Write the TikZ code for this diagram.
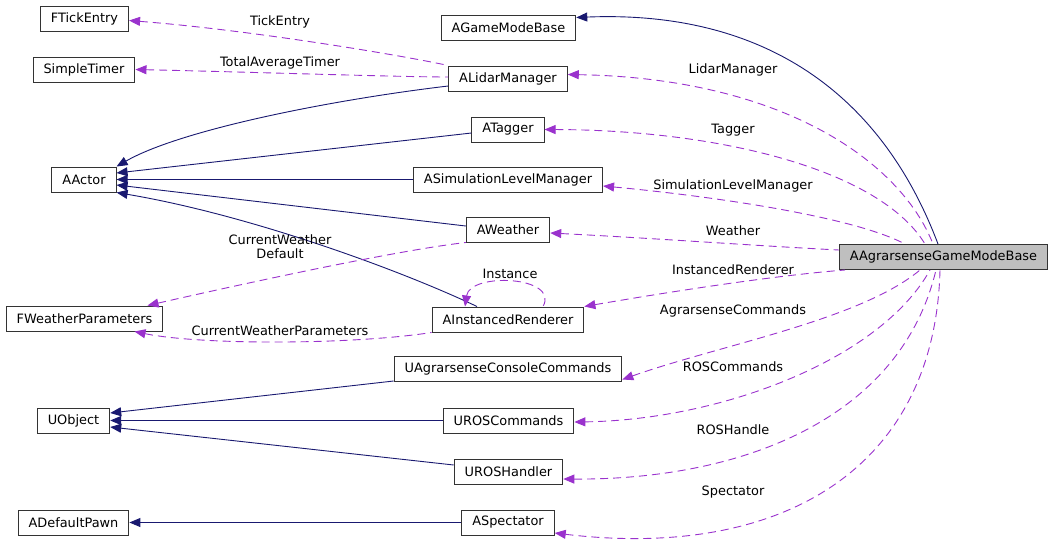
\documentclass[tikz,border=0pt]{standalone}
\usepackage{fontspec}
\setmainfont{DejaVu Sans}
\usepackage{tikz}
\usetikzlibrary{positioning,arrows.meta,calc}
\definecolor{inhblue}{RGB}{25,25,112}
\definecolor{usepurple}{RGB}{154,50,205}
\definecolor{boxgray}{RGB}{191,191,191}
\tikzset{
  cls/.style={draw=black!80, line width=1pt, fill=white, minimum height=25pt,
              inner xsep=10.5pt, inner ysep=0pt, font=\fontsize{12.9}{14}\selectfont},
  maincls/.style={cls, fill=boxgray},
  inherit/.style={{Triangle[length=11pt,width=9pt]}-, line width=0.9pt, inhblue},
  member/.style={{Triangle[length=11pt,width=9pt]}-, line width=0.9pt, usepurple,
                 dash pattern=on 8pt off 5pt},
  lbl/.style={align=center, inner sep=0pt, font=\fontsize{12.9}{14}\selectfont}
}
\begin{document}
\begin{tikzpicture}[x=1pt,y=-1pt]
    \useasboundingbox (0,0) rectangle (1055,547);
    % left column
    \node[cls] (ftick) at (84.5,18.5) {FTickEntry};
    \node[cls] (timer) at (84,69.5) {SimpleTimer};
    \node[cls] (actor) at (84,179.5) {AActor};
    \node[cls] (wparams) at (84.5,318.5) {FWeatherParameters};
    \node[cls] (uobj) at (73.5,420.5) {UObject};
    \node[cls] (pawn) at (73.5,522.5) {ADefaultPawn};
    % middle column
    \node[cls] (gmbase) at (508.5,27.5) {AGameModeBase};
    \node[cls] (lidar) at (508,78.5) {ALidarManager};
    \node[cls] (tagger) at (508,129.5) {ATagger};
    \node[cls] (simlvl) at (508,179.5) {ASimulationLevelManager};
    \node[cls] (weather) at (508,229.5) {AWeather};
    \node[cls] (instr) at (508,319.5) {AInstancedRenderer};
    \node[cls] (console) at (508,369) {UAgrarsenseConsoleCommands};
    \node[cls] (roscmd) at (508.5,420.5) {UROSCommands};
    \node[cls] (roshdl) at (508.5,471.5) {UROSHandler};
    \node[cls] (spect) at (508,522.5) {ASpectator};
    % the documented class
    \node[maincls] (main) at (943.5,257) {AAgrarsenseGameModeBase};
    % inheritance
    \draw[inherit] ([yshift=10pt]gmbase.east) .. controls (760,10) and (880,90) .. ([xshift=-5.5pt]main.north);
    \draw[inherit] (actor.north east) .. controls (180,130) and (330,100) .. ([yshift=-7.5pt]lidar.west);
    \draw[inherit] ([yshift=6.5pt]actor.east) -- ([yshift=-3.5pt]tagger.west);
    \draw[inherit] (actor.east) -- (simlvl.west);
    \draw[inherit] ([yshift=-5.5pt]actor.east) -- ([yshift=3.5pt]weather.west);
    \draw[inherit] (actor.south east) .. controls (250,215) and (400,270) .. ([xshift=-31pt]instr.north);
    \draw[inherit] ([yshift=7.5pt]uobj.east) -- ([yshift=-12pt]console.west);
    \draw[inherit] (uobj.east) -- (roscmd.west);
    \draw[inherit] ([yshift=-6.5pt]uobj.east) -- ([yshift=6.5pt]roshdl.west);
    \draw[inherit] (pawn.east) -- (spect.west);
    % members
    \draw[member] ([yshift=-2pt]ftick.east) .. controls (250,30) and (400,55) .. (lidar.north west);
    \draw[member] (timer.east) .. controls (250,72) and (400,77) .. ([yshift=1.5pt]lidar.west);
    \draw[member] ([yshift=4pt]lidar.east) .. controls (780,78) and (900,160) .. ([xshift=-10.5pt]main.north);
    \draw[member] (tagger.east) .. controls (720,130) and (880,170) .. ([xshift=-18.5pt]main.north);
    \draw[member] ([yshift=-6.5pt]simlvl.east) .. controls (700,195) and (850,215) .. ([xshift=-38.5pt]main.north);
    \draw[member] ([yshift=-3.5pt]weather.east) .. controls (650,238) and (760,246) .. ([yshift=7pt]main.west);
    \draw[member] ([xshift=63pt]wparams.north) .. controls (260,280) and (400,250) .. (weather.south west);
    \draw[member] ([xshift=50pt]wparams.south) .. controls (200,345) and (350,345) .. (instr.south west);
    \draw[member] ([xshift=-43pt]instr.north) .. controls (470,272) and (560,276) .. ([xshift=35pt]instr.north);
    \draw[member] (instr.north east) .. controls (680,290) and (780,275) .. ([xshift=-98.5pt]main.south);
    \draw[member] ([yshift=-10.5pt]console.east) .. controls (720,345) and (860,320) .. ([xshift=-23.5pt]main.south);
    \draw[member] ([yshift=-1.5pt]roscmd.east) .. controls (720,420) and (880,360) .. ([xshift=-13.5pt]main.south);
    \draw[member] ([yshift=-7.5pt]roshdl.east) .. controls (740,480) and (900,420) .. ([xshift=-7.5pt]main.south);
    \draw[member] ([yshift=-10.5pt]spect.east) .. controls (780,560) and (935,470) .. ([xshift=-3.5pt]main.south);
    % labels
    \node[lbl] (lTick) at (280,22) {TickEntry};
    \node[lbl] (lTimer) at (280,63) {TotalAverageTimer};
    \node[lbl] (lLidar) at (733,70) {LidarManager};
    \node[lbl] (lTagger) at (733,130) {Tagger};
    \node[lbl] (lSim) at (733,186) {SimulationLevelManager};
    \node[lbl] (lCurW) at (280,247) {CurrentWeather\\Default};
    \node[lbl] (lWeather) at (733,231) {Weather};
    \node[lbl] (lInst) at (510,274) {Instance};
    \node[lbl] (lInstR) at (733,270) {InstancedRenderer};
    \node[lbl] (lCurWP) at (280,331) {CurrentWeatherParameters};
    \node[lbl] (lCmds) at (733,311) {AgrarsenseCommands};
    \node[lbl] (lRosC) at (733,367) {ROSCommands};
    \node[lbl] (lRosH) at (733,430) {ROSHandle};
    \node[lbl] (lSpect) at (733,492) {Spectator};
  \end{tikzpicture}
\end{document}
